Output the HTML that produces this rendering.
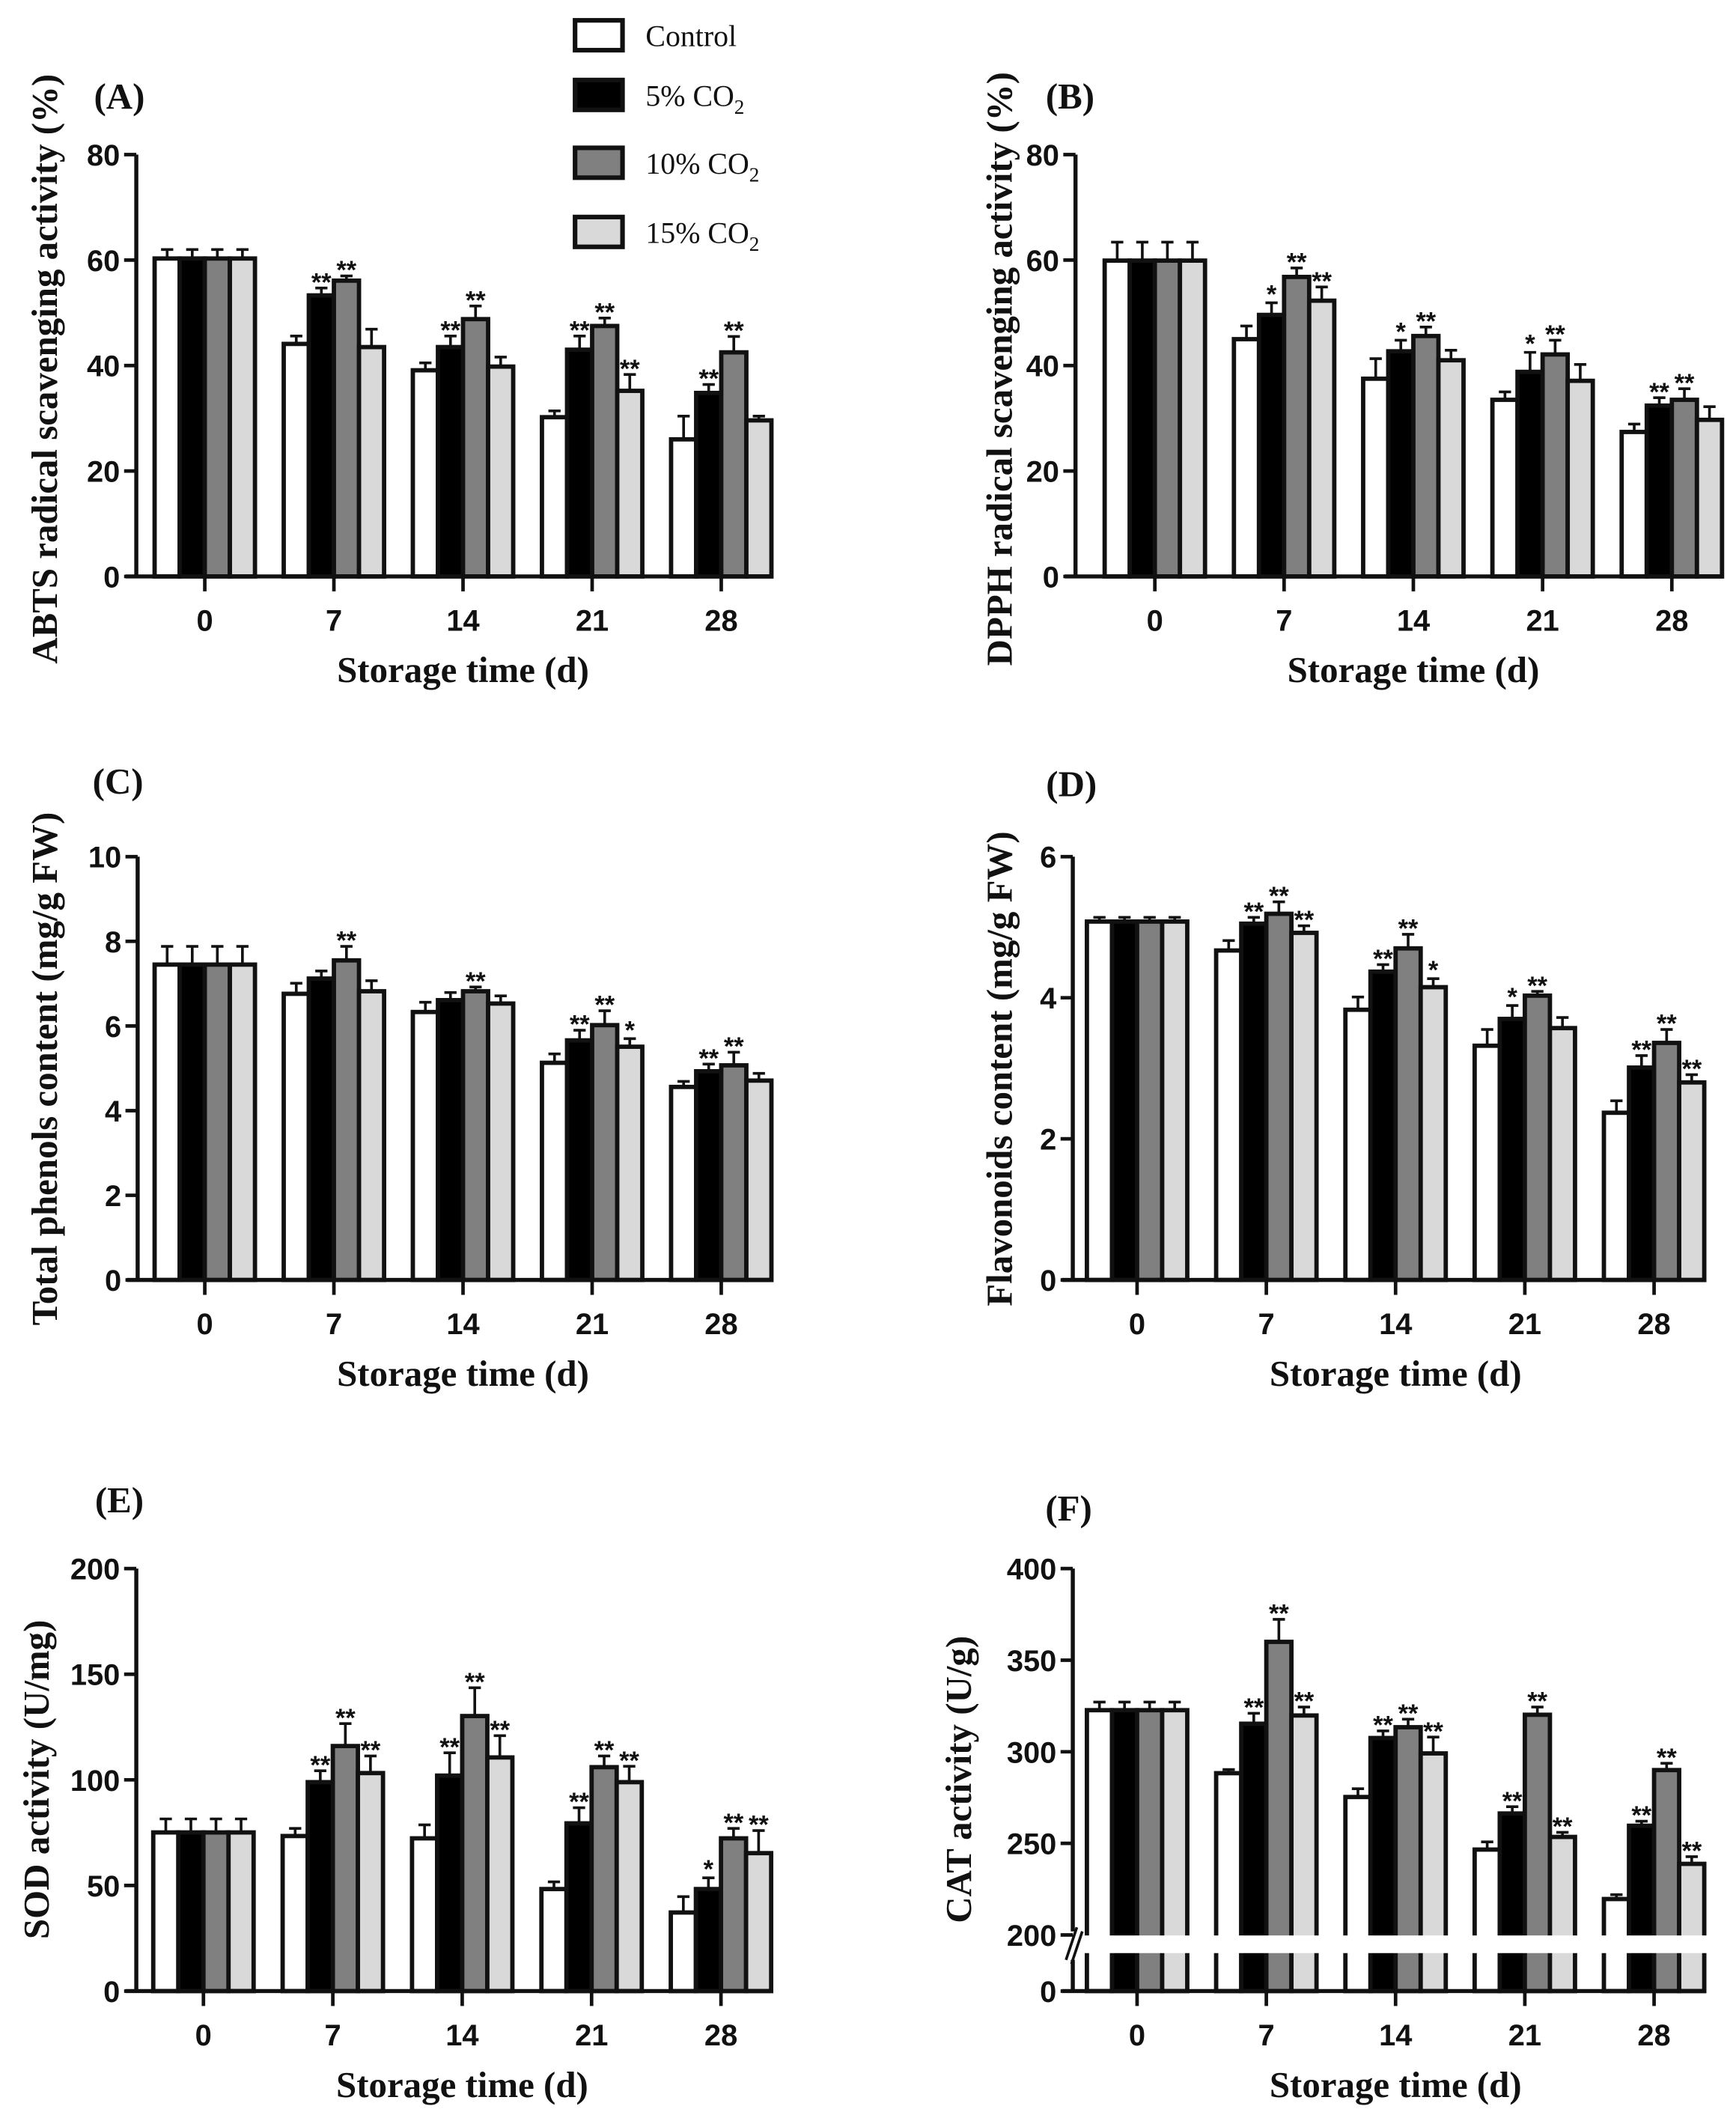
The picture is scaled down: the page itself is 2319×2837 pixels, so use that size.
<!DOCTYPE html>
<html><head><meta charset="utf-8"><style>
html,body{margin:0;padding:0;background:#fff;}
svg{display:block;}
.tk{font-family:"Liberation Sans",Arial,sans-serif;font-weight:bold;font-size:22px;fill:#111;}
.ti{font-family:"Liberation Serif","Times New Roman",serif;font-weight:bold;font-size:27px;fill:#111;}
.lg{font-family:"Liberation Serif","Times New Roman",serif;font-size:22px;fill:#111;}
.st{font-family:"Liberation Sans",Arial,sans-serif;font-weight:bold;font-size:19px;fill:#111;}
</style></head><body>
<svg id="fig" width="2319" height="2837" viewBox="0 0 1280 1566" preserveAspectRatio="none" xmlns="http://www.w3.org/2000/svg">
<rect x="0" y="0" width="1280" height="1566" fill="#fff"/>
<g>
  <rect x="424" y="15" width="35" height="22" fill="#fff" stroke="#111" stroke-width="3.4"/>
  <text class="lg" x="476" y="34">Control</text>
  <rect x="424" y="59" width="35" height="22" fill="#000" stroke="#111" stroke-width="3.4"/>
  <text class="lg" x="476" y="78">5% CO<tspan font-size="15" dy="6">2</tspan></text>
  <rect x="424" y="109" width="35" height="22" fill="#808080" stroke="#111" stroke-width="3.4"/>
  <text class="lg" x="476" y="128">10% CO<tspan font-size="15" dy="6">2</tspan></text>
  <rect x="424" y="160" width="35" height="22" fill="#d9d9d9" stroke="#111" stroke-width="3.4"/>
  <text class="lg" x="476" y="179">15% CO<tspan font-size="15" dy="6">2</tspan></text>
</g>
</svg>
<script>
const categories = ["0","7","14","21","28"];
// Panel A: ABTS
const aCtrl=[60.3,44.1,39.1,30.2,26.0], aErrCtrl=[62,45.6,40.5,31.4,30.4];
const a5=[60.3,53.3,43.5,43.0,34.8], aErr5=[62,54.7,45.6,45.6,36.4];
const a10=[60.3,56.1,48.8,47.5,42.5], aErr10=[62,57.0,51.3,49.0,45.5];
const a15=[60.3,43.5,39.8,35.2,29.6], aErr15=[62,46.9,41.6,38.3,30.4];
const aStars=[["","","",""],["","**","**",""],["","**","**",""],["","**","**","**"],["","**","**",""]];
const aTicks=[0,20,40,60,80];
// Panel B: DPPH
const bCtrl=[59.9,45.0,37.5,33.5,27.4], bErrCtrl=[63.4,47.5,41.3,35.0,28.9];
const b5=[59.9,49.6,42.7,38.8,32.4], bErr5=[63.4,51.9,44.8,42.5,33.9];
const b10=[59.9,56.8,45.6,42.1,33.5], bErr10=[63.4,58.5,47.3,44.8,35.6];
const b15=[59.9,52.3,41.0,37.1,29.7], bErr15=[63.4,54.9,42.9,40.2,32.2];
const bStars=[["","","",""],["","*","**","**"],["","*","**",""],["","*","**",""],["","**","**",""]];
const bTicks=[0,20,40,60,80];
// Panel C: total phenols
const cCtrl=[7.45,6.76,6.33,5.13,4.56], cErrCtrl=[7.88,7.01,6.56,5.34,4.69];
const c5=[7.45,7.12,6.61,5.66,4.93], cErr5=[7.88,7.30,6.79,5.90,5.10];
const c10=[7.45,7.55,6.82,6.02,5.07], cErr10=[7.88,7.88,6.92,6.36,5.38];
const c15=[7.45,6.82,6.53,5.51,4.71], cErr15=[7.88,7.07,6.71,5.70,4.88];
const cStars=[["","","",""],["","","**",""],["","","**",""],["","**","**","*"],["","**","**",""]];
const cTicks=[0,2,4,6,8,10];
// Panel D: flavonoids
const dCtrl=[5.08,4.67,3.83,3.32,2.37], dErrCtrl=[5.14,4.81,4.01,3.55,2.54];
const d5=[5.08,5.05,4.37,3.70,3.01], dErr5=[5.14,5.14,4.47,3.89,3.18];
const d10=[5.08,5.19,4.70,4.03,3.36], dErr10=[5.14,5.36,4.90,4.09,3.55];
const d15=[5.08,4.92,4.15,3.57,2.80], dErr15=[5.14,5.02,4.27,3.72,2.91];
const dStars=[["","","",""],["","**","**","**"],["","**","**","*"],["","*","**",""],["","**","**","**"]];
const dTicks=[0,2,4,6];
// Panel E: SOD
const eCtrl=[75.1,73.4,72.3,48.3,37.2], eErrCtrl=[81.5,77.0,78.7,51.7,44.7];
const e5=[75.1,98.9,102.0,79.4,48.3], eErr5=[81.5,104.3,112.8,86.8,53.6];
const e10=[75.1,116.0,130.2,106.0,72.3], eErr10=[81.5,126.6,143.6,111.3,77.0];
const e15=[75.1,103.2,110.6,98.9,65.3], eErr15=[81.5,111.3,120.9,106.4,76.0];
const eStars=[["","","",""],["","**","**","**"],["","**","**","**"],["","**","**","**"],["","*","**","**"]];
const eTicks=[0,50,100,150,200];
// Panel F: CAT
const fCtrl=[322.7,288.3,275.3,246.6,219.6], fErrCtrl=[327.1,290.3,279.8,250.8,222.0];
const f5=[322.7,315.3,307.5,266.3,259.6], fErr5=[327.1,321.0,311.4,270.0,262.1];
const f10=[322.7,360.0,313.4,320.2,290.0], fErr10=[327.1,372.3,317.8,324.4,293.7];
const f15=[322.7,319.8,299.1,253.5,238.8], fErr15=[327.1,324.4,308.0,256.0,242.7];
const fStars=[["","","",""],["","**","**","**"],["","**","**","**"],["","**","**","**"],["","**","**","**"]];
const fTicks=[0,200,250,300,350,400];

const NS="http://www.w3.org/2000/svg";
const svg=document.getElementById('fig');
const fills=["#ffffff","#000000","#808080","#d9d9d9"];
const seriesNames=["control","5co2","10co2","15co2"];
function mk(tag,attrs,parent){const e=document.createElementNS(NS,tag);for(const k in attrs)e.setAttribute(k,attrs[k]);(parent||svg).appendChild(e);return e;}

function panel(cfg){
  const g=mk('g',{});
  
  
  const yScale=cfg.yScale;
  const xc=i=>cfg.g0+cfg.sp*i;
  const bw=18.5;
  const series=cfg.series, errs=cfg.errs;
  for(let i=0;i<categories.length;i++){
    for(let k=0;k<4;k++){
      const v=series[k][i], x=xc(i)-37+k*bw, yt=yScale(v), yb=cfg.y0;
      const r=mk('rect',{x:x,y:yt,width:bw,height:yb-yt,fill:fills[k],stroke:'#111','stroke-width':3.2},g);
      
      
      const ye=yScale(errs[k][i]);
      if(errs[k][i]>v){
        const l=mk('path',{d:`M${x+bw/2},${yt} V${ye} M${x+bw/2-4.5},${ye} H${x+bw/2+4.5}`,stroke:'#111','stroke-width':2,fill:'none'},g);
        
        
      }
      const s=cfg.stars[i][k];
      if(s){
        const t=mk('text',{x:x+bw/2,y:ye+(s=="*"?0:2),'text-anchor':'middle',class:'st'},g);
        t.textContent=s;
        
        
      }
    }
  }
  if(cfg.brk){
    const w=mk('rect',{x:cfg.ax+2,y:cfg.brk[0],width:cfg.xEnd-cfg.ax+4,height:cfg.brk[1]-cfg.brk[0],fill:'#fff'},g);
    
    
  }
  let yaxisPath=`M${cfg.ax},${cfg.yTop} V${cfg.y0}`;
  if(cfg.brk) yaxisPath=`M${cfg.ax},${cfg.yTop} V${cfg.brk[0]-3} M${cfg.ax},${cfg.brk[1]+5} V${cfg.y0}`;
  const ya=mk('path',{d:yaxisPath,stroke:'#111','stroke-width':3,fill:'none'},g);
  
  
  if(cfg.brk){
    const sl=mk('path',{d:`M${cfg.ax-5},${cfg.brk[1]+5} L${cfg.ax+3},${cfg.brk[0]-6} M${cfg.ax-1},${cfg.brk[1]+8} L${cfg.ax+7},${cfg.brk[0]-3}`,stroke:'#111','stroke-width':2,fill:'none'},g);
    
    
  }
  const xa=mk('path',{d:`M${cfg.ax-8},${cfg.y0} H${cfg.xEnd}`,stroke:'#111','stroke-width':3,fill:'none'},g);
  
  
  cfg.ticks.forEach(t=>{
    const y=yScale(t);
    const tm=mk('path',{d:`M${cfg.ax-9},${y} H${cfg.ax}`,stroke:'#111','stroke-width':2.6},g);
    
    
    const tl=mk('text',{x:cfg.ax-12,y:y+8,'text-anchor':'end',class:'tk'},g);
    tl.textContent=t;
    
    
  });
  categories.forEach((c,i)=>{
    const x=xc(i);
    const tm=mk('path',{d:`M${x},${cfg.y0} V${cfg.y0+11}`,stroke:'#111','stroke-width':2.6},g);
    
    
    const tl=mk('text',{x:x,y:cfg.y0+40,'text-anchor':'middle',class:'tk'},g);
    tl.textContent=c;
    
    
  });
  const xt=mk('text',{x:xc(2),y:cfg.y0+78,'text-anchor':'middle',class:'ti'},g);
  xt.textContent='Storage time (d)';
  
  
  const yt=mk('text',{x:0,y:0,'text-anchor':'middle',class:'ti',transform:`translate(${cfg.ytx},${cfg.yty}) rotate(-90)`},g);
  yt.textContent=cfg.ytitle;
  
  
  const pl=mk('text',{x:cfg.lbl[0],y:cfg.lbl[1],class:'ti','text-anchor':'middle'},g);
  pl.textContent='('+cfg.id.toUpperCase()+')';
  
  
}
function lin(v0,v1,p0,p1){return v=>p0+(v-v0)*(p1-p0)/(v1-v0);}

panel({id:'a',ax:100.5,g0:151,sp:95.2,xEnd:570,y0:425,yTop:114,yScale:lin(0,80,425,114),ticks:aTicks,
  series:[aCtrl,a5,a10,a15],errs:[aErrCtrl,aErr5,aErr10,aErr15],stars:aStars,
  ytitle:'ABTS radical scavenging activity (%)',ytx:42,yty:272,lbl:[88,80]});
panel({id:'b',ax:793,g0:851.5,sp:95.3,xEnd:1270,y0:425,yTop:114,yScale:lin(0,80,425,114),ticks:bTicks,
  series:[bCtrl,b5,b10,b15],errs:[bErrCtrl,bErr5,bErr10,bErr15],stars:bStars,
  ytitle:'DPPH radical scavenging activity (%)',ytx:746,yty:272,lbl:[789,80]});
panel({id:'c',ax:101.5,g0:151,sp:95.2,xEnd:570,y0:943.7,yTop:631.6,yScale:lin(0,10,943.7,631.6),ticks:cTicks,
  series:[cCtrl,c5,c10,c15],errs:[cErrCtrl,cErr5,cErr10,cErr15],stars:cStars,
  ytitle:'Total phenols content (mg/g FW)',ytx:42,yty:788,lbl:[87,585]});
panel({id:'d',ax:791,g0:838.4,sp:95.3,xEnd:1257.5,y0:943.7,yTop:631.6,yScale:lin(0,6,943.7,631.6),ticks:dTicks,
  series:[dCtrl,d5,d10,d15],errs:[dErrCtrl,dErr5,dErr10,dErr15],stars:dStars,
  ytitle:'Flavonoids content (mg/g FW)',ytx:746,yty:788,lbl:[790,587]});
panel({id:'e',ax:100.5,g0:150,sp:95.4,xEnd:568,y0:1468,yTop:1156.5,yScale:lin(0,200,1468,1156.5),ticks:eTicks,
  series:[eCtrl,e5,e10,e15],errs:[eErrCtrl,eErr5,eErr10,eErr15],stars:eStars,
  ytitle:'SOD activity (U/mg)',ytx:36,yty:1312,lbl:[88,1115]});
const fScale=v=> v>=200 ? 1426.6-(v-200)*(1426.6-1156.5)/200 : 1468-v*(1468-1440)/200;
panel({id:'f',ax:791,g0:838.4,sp:95.3,xEnd:1257.5,y0:1468,yTop:1156.5,yScale:fScale,ticks:fTicks,brk:[1427,1440],
  series:[fCtrl,f5,f10,f15],errs:[fErrCtrl,fErr5,fErr10,fErr15],stars:fStars,
  ytitle:'CAT activity (U/g)',ytx:716,yty:1312,lbl:[788,1121]});
</script>
</body></html>
